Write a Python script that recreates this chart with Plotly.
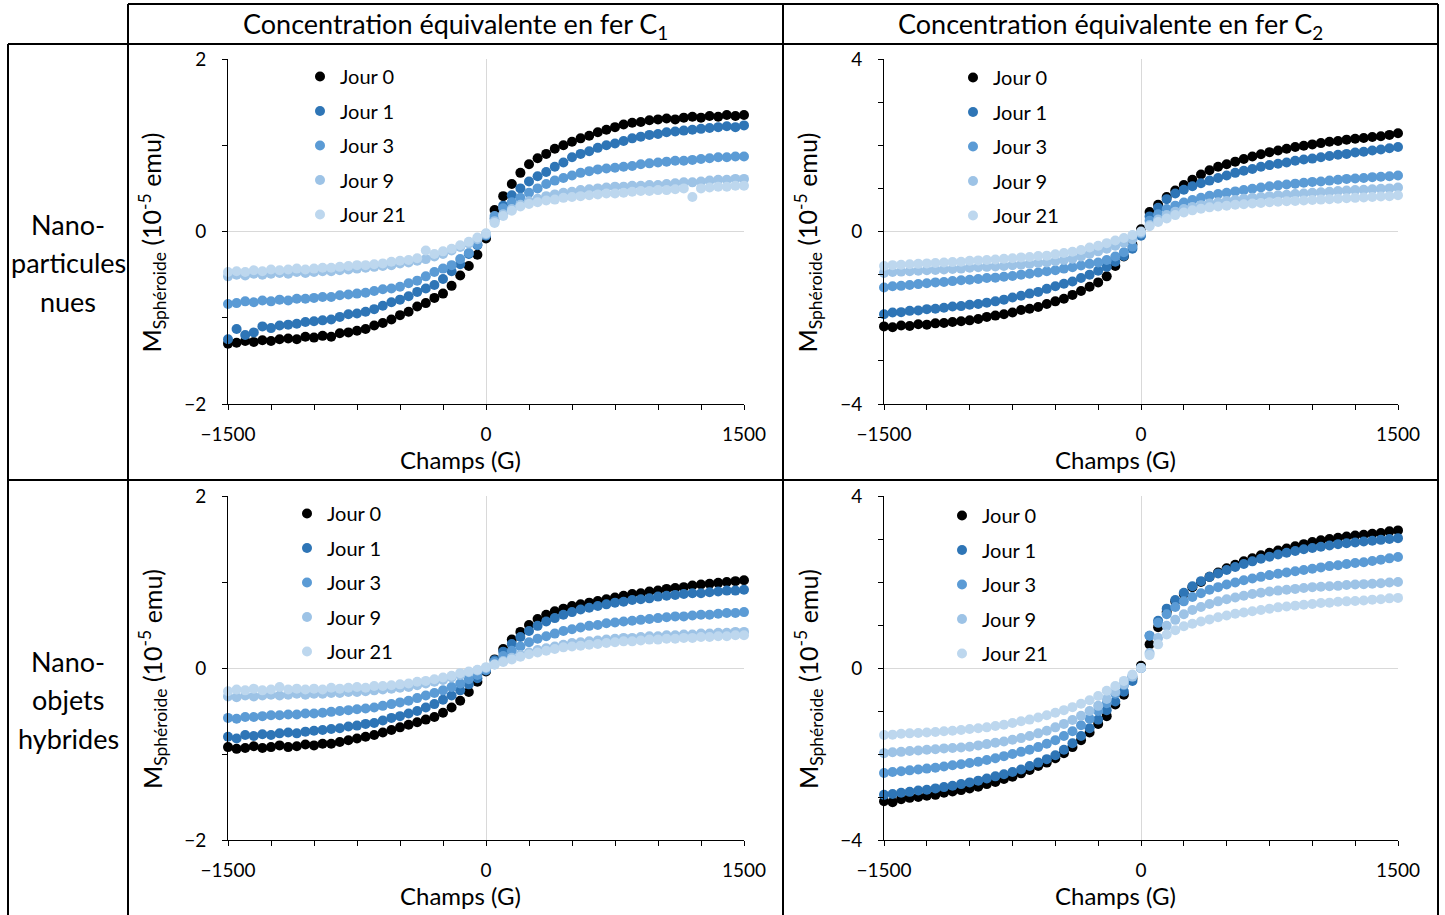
import plotly.graph_objects as go

FONT = "Lato"
W, H = 1445, 915

# Field values (G)
champs = [-1500, -1450, -1400, -1350, -1300, -1250, -1200, -1150, -1100, -1050,
          -1000, -950, -900, -850, -800, -750, -700, -650, -600, -550,
          -500, -450, -400, -350, -300, -250, -200, -150, -100, -50,
          0,
          50, 100, 150, 200, 250, 300, 350, 400, 450, 500,
          550, 600, 650, 700, 750, 800, 850, 900, 950, 1000,
          1050, 1100, 1150, 1200, 1250, 1300, 1350, 1400, 1450, 1500]

jours = ["Jour 0", "Jour 1", "Jour 3", "Jour 9", "Jour 21"]
couleurs = ["#000000", "#2E75B6", "#5B9BD5", "#9DC3E6", "#BDD7EE"]

# --- Nanoparticules nues, C1 ---
np_c1_j0 = [-1.30, -1.29, -1.27, -1.28, -1.26, -1.27, -1.25, -1.24, -1.25, -1.22,
            -1.23, -1.21, -1.22, -1.18, -1.17, -1.15, -1.13, -1.09, -1.06, -1.02,
            -0.97, -0.93, -0.87, -0.83, -0.77, -0.72, -0.63, -0.51, -0.40, -0.27,
            -0.08,
            0.25, 0.41, 0.55, 0.68, 0.78, 0.85, 0.90, 0.96, 1.00, 1.04,
            1.08, 1.11, 1.15, 1.18, 1.21, 1.24, 1.26, 1.27, 1.29, 1.30,
            1.31, 1.30, 1.32, 1.33, 1.32, 1.34, 1.33, 1.35, 1.34, 1.35]
np_c1_j1 = [-1.25, -1.13, -1.20, -1.17, -1.10, -1.12, -1.09, -1.08, -1.07, -1.05,
            -1.04, -1.03, -1.02, -0.99, -0.96, -0.95, -0.93, -0.90, -0.86, -0.82,
            -0.79, -0.75, -0.70, -0.66, -0.62, -0.55, -0.46, -0.38, -0.26, -0.16,
            -0.05,
            0.15, 0.30, 0.42, 0.50, 0.58, 0.64, 0.69, 0.75, 0.80, 0.86,
            0.90, 0.93, 0.97, 1.00, 1.02, 1.05, 1.08, 1.10, 1.12, 1.13,
            1.15, 1.16, 1.17, 1.18, 1.19, 1.20, 1.21, 1.22, 1.21, 1.23]
np_c1_j3 = [-0.84, -0.83, -0.81, -0.82, -0.80, -0.81, -0.79, -0.80, -0.78, -0.78,
            -0.77, -0.76, -0.76, -0.74, -0.73, -0.72, -0.71, -0.69, -0.67, -0.66,
            -0.64, -0.60, -0.57, -0.52, -0.47, -0.43, -0.39, -0.32, -0.25, -0.15,
            -0.04,
            0.18, 0.27, 0.34, 0.39, 0.45, 0.50, 0.55, 0.59, 0.62, 0.65,
            0.68, 0.70, 0.72, 0.73, 0.74, 0.75, 0.76, 0.78, 0.79, 0.80,
            0.81, 0.82, 0.82, 0.83, 0.84, 0.85, 0.86, 0.86, 0.87, 0.87]
np_c1_j9 = [-0.52, -0.50, -0.51, -0.49, -0.50, -0.49, -0.48, -0.49, -0.47, -0.48,
            -0.47, -0.46, -0.46, -0.45, -0.44, -0.43, -0.42, -0.41, -0.40, -0.39,
            -0.37, -0.36, -0.34, -0.32, -0.29, -0.26, -0.22, -0.18, -0.14, -0.09,
            -0.03,
            0.12, 0.20, 0.26, 0.31, 0.35, 0.38, 0.41, 0.43, 0.45, 0.46,
            0.48, 0.49, 0.50, 0.51, 0.52, 0.52, 0.53, 0.53, 0.54, 0.54,
            0.55, 0.56, 0.57, 0.57, 0.58, 0.59, 0.60, 0.60, 0.61, 0.61]
np_c1_j21 = [-0.47, -0.46, -0.47, -0.45, -0.46, -0.44, -0.45, -0.44, -0.43, -0.44,
             -0.43, -0.42, -0.42, -0.41, -0.40, -0.39, -0.39, -0.38, -0.37, -0.35,
             -0.34, -0.33, -0.31, -0.22, -0.26, -0.23, -0.20, -0.16, -0.12, -0.07,
             -0.02,
             0.10, 0.18, 0.24, 0.29, 0.32, 0.34, 0.36, 0.37, 0.39, 0.40,
             0.41, 0.42, 0.43, 0.44, 0.44, 0.45, 0.46, 0.47, 0.47, 0.48,
             0.48, 0.49, 0.50, 0.40, 0.50, 0.51, 0.52, 0.52, 0.53, 0.53]

# --- Nanoparticules nues, C2 ---
np_c2_j0 = [-2.20, -2.22, -2.18, -2.19, -2.15, -2.16, -2.13, -2.12, -2.10, -2.08,
            -2.06, -2.03, -1.98, -1.95, -1.92, -1.88, -1.82, -1.79, -1.75, -1.68,
            -1.62, -1.56, -1.47, -1.38, -1.28, -1.18, -1.04, -0.80, -0.58, -0.30,
            0.05,
            0.45, 0.62, 0.80, 0.95, 1.08, 1.20, 1.32, 1.42, 1.50, 1.56,
            1.62, 1.68, 1.74, 1.79, 1.84, 1.88, 1.92, 1.96, 1.99, 2.02,
            2.05, 2.08, 2.10, 2.13, 2.15, 2.17, 2.19, 2.21, 2.24, 2.28]
np_c2_j1 = [-1.92, -1.88, -1.87, -1.84, -1.83, -1.80, -1.79, -1.77, -1.74, -1.73,
            -1.70, -1.68, -1.65, -1.62, -1.58, -1.53, -1.49, -1.44, -1.40, -1.33,
            -1.27, -1.21, -1.16, -1.08, -1.00, -0.91, -0.82, -0.70, -0.57, -0.40,
            -0.10,
            0.35, 0.55, 0.75, 0.88, 0.97, 1.05, 1.12, 1.18, 1.24, 1.30,
            1.36, 1.41, 1.45, 1.50, 1.54, 1.57, 1.60, 1.64, 1.67, 1.69,
            1.72, 1.75, 1.78, 1.80, 1.83, 1.85, 1.88, 1.90, 1.93, 1.96]
np_c2_j3 = [-1.30, -1.27, -1.26, -1.24, -1.22, -1.20, -1.18, -1.17, -1.15, -1.13,
            -1.12, -1.10, -1.08, -1.07, -1.05, -1.03, -1.00, -0.98, -0.95, -0.92,
            -0.90, -0.86, -0.83, -0.79, -0.75, -0.72, -0.66, -0.58, -0.48, -0.35,
            -0.05,
            0.25, 0.40, 0.52, 0.60, 0.67, 0.73, 0.78, 0.83, 0.87, 0.90,
            0.93, 0.96, 0.99, 1.02, 1.05, 1.07, 1.09, 1.11, 1.13, 1.15,
            1.16, 1.18, 1.20, 1.22, 1.23, 1.24, 1.26, 1.27, 1.28, 1.30]
np_c2_j9 = [-0.96, -0.94, -0.93, -0.92, -0.91, -0.90, -0.89, -0.88, -0.87, -0.86,
            -0.84, -0.83, -0.82, -0.81, -0.80, -0.78, -0.77, -0.75, -0.73, -0.72,
            -0.69, -0.66, -0.63, -0.58, -0.52, -0.46, -0.40, -0.33, -0.26, -0.18,
            -0.03,
            0.15, 0.28, 0.38, 0.46, 0.52, 0.57, 0.61, 0.65, 0.68, 0.71,
            0.73, 0.76, 0.78, 0.80, 0.82, 0.84, 0.85, 0.87, 0.88, 0.90,
            0.91, 0.92, 0.94, 0.95, 0.96, 0.97, 0.98, 0.99, 1.00, 1.02]
np_c2_j21 = [-0.80, -0.78, -0.77, -0.76, -0.75, -0.74, -0.73, -0.72, -0.71, -0.70,
             -0.68, -0.67, -0.66, -0.65, -0.63, -0.62, -0.60, -0.59, -0.57, -0.56,
             -0.53, -0.50, -0.47, -0.43, -0.37, -0.33, -0.27, -0.21, -0.15, -0.08,
             0.00,
             0.12, 0.22, 0.30, 0.38, 0.44, 0.49, 0.53, 0.56, 0.58, 0.60,
             0.62, 0.63, 0.65, 0.66, 0.68, 0.69, 0.70, 0.71, 0.72, 0.73,
             0.74, 0.75, 0.76, 0.77, 0.78, 0.79, 0.80, 0.81, 0.82, 0.84]

# --- Nano-objets hybrides, C1 ---
no_c1_j0 = [-0.92, -0.94, -0.93, -0.91, -0.93, -0.92, -0.90, -0.92, -0.91, -0.89,
            -0.90, -0.88, -0.88, -0.86, -0.84, -0.82, -0.80, -0.78, -0.75, -0.72,
            -0.69, -0.66, -0.63, -0.60, -0.57, -0.52, -0.46, -0.38, -0.28, -0.16,
            -0.04,
            0.10, 0.22, 0.33, 0.42, 0.50, 0.57, 0.62, 0.66, 0.69, 0.72,
            0.74, 0.76, 0.78, 0.80, 0.82, 0.84, 0.86, 0.87, 0.89, 0.90,
            0.92, 0.93, 0.94, 0.96, 0.97, 0.98, 0.99, 1.00, 1.01, 1.02]
no_c1_j1 = [-0.80, -0.82, -0.78, -0.79, -0.77, -0.78, -0.76, -0.75, -0.76, -0.74,
            -0.73, -0.72, -0.71, -0.70, -0.68, -0.67, -0.65, -0.64, -0.61, -0.58,
            -0.56, -0.53, -0.50, -0.46, -0.42, -0.37, -0.32, -0.26, -0.19, -0.12,
            -0.03,
            0.09, 0.19, 0.28, 0.36, 0.43, 0.49, 0.54, 0.58, 0.62, 0.65,
            0.68, 0.70, 0.72, 0.74, 0.76, 0.77, 0.79, 0.80, 0.81, 0.83,
            0.84, 0.85, 0.86, 0.87, 0.87, 0.88, 0.89, 0.90, 0.90, 0.91]
no_c1_j3 = [-0.58, -0.59, -0.57, -0.57, -0.56, -0.55, -0.55, -0.54, -0.54, -0.53,
            -0.53, -0.52, -0.51, -0.50, -0.49, -0.48, -0.47, -0.46, -0.44, -0.42,
            -0.40, -0.38, -0.35, -0.32, -0.29, -0.26, -0.22, -0.18, -0.13, -0.08,
            -0.02,
            0.07, 0.14, 0.20, 0.25, 0.30, 0.34, 0.37, 0.40, 0.43, 0.45,
            0.47, 0.49, 0.50, 0.52, 0.53, 0.54, 0.55, 0.56, 0.57, 0.58,
            0.59, 0.60, 0.60, 0.61, 0.62, 0.62, 0.63, 0.64, 0.64, 0.65]
no_c1_j9 = [-0.33, -0.34, -0.32, -0.33, -0.32, -0.31, -0.32, -0.31, -0.30, -0.31,
            -0.30, -0.30, -0.29, -0.29, -0.28, -0.28, -0.27, -0.26, -0.25, -0.24,
            -0.23, -0.22, -0.20, -0.18, -0.16, -0.14, -0.11, -0.08, -0.05, -0.03,
            0.00,
            0.04, 0.08, 0.12, 0.15, 0.18, 0.21, 0.23, 0.25, 0.27, 0.29,
            0.30, 0.31, 0.32, 0.33, 0.34, 0.35, 0.35, 0.36, 0.37, 0.37,
            0.38, 0.38, 0.39, 0.39, 0.40, 0.40, 0.41, 0.41, 0.42, 0.42]
no_c1_j21 = [-0.27, -0.25, -0.26, -0.24, -0.26, -0.25, -0.22, -0.25, -0.24, -0.25,
             -0.24, -0.25, -0.23, -0.24, -0.23, -0.22, -0.23, -0.21, -0.21, -0.20,
             -0.19, -0.18, -0.16, -0.15, -0.13, -0.11, -0.09, -0.06, -0.04, -0.02,
             0.01,
             0.04, 0.07, 0.10, 0.13, 0.16, 0.18, 0.20, 0.22, 0.24, 0.25,
             0.26, 0.27, 0.28, 0.29, 0.30, 0.31, 0.31, 0.32, 0.33, 0.33,
             0.34, 0.34, 0.35, 0.35, 0.36, 0.36, 0.37, 0.37, 0.38, 0.38]

# --- Nano-objets hybrides, C2 ---
no_c2_j0 = [-3.10, -3.12, -3.05, -3.02, -3.00, -2.97, -2.95, -2.90, -2.87, -2.84,
            -2.80, -2.76, -2.70, -2.65, -2.58, -2.53, -2.45, -2.37, -2.28, -2.20,
            -2.10, -1.98, -1.84, -1.68, -1.50, -1.30, -1.12, -0.85, -0.62, -0.25,
            0.05,
            0.55, 0.95, 1.30, 1.55, 1.72, 1.88, 2.00, 2.12, 2.22, 2.32,
            2.40, 2.48, 2.55, 2.62, 2.68, 2.73, 2.78, 2.83, 2.88, 2.93,
            2.97, 3.00, 3.03, 3.06, 3.08, 3.10, 3.12, 3.14, 3.18, 3.20]
no_c2_j1 = [-2.95, -2.93, -2.90, -2.88, -2.85, -2.83, -2.80, -2.77, -2.74, -2.70,
            -2.66, -2.62, -2.57, -2.52, -2.47, -2.42, -2.36, -2.28, -2.20, -2.12,
            -2.03, -1.90, -1.75, -1.58, -1.40, -1.20, -0.98, -0.78, -0.55, -0.30,
            0.00,
            0.75, 1.10, 1.38, 1.58, 1.75, 1.90, 2.02, 2.12, 2.20, 2.28,
            2.35, 2.42, 2.48, 2.54, 2.59, 2.64, 2.68, 2.72, 2.76, 2.79,
            2.82, 2.85, 2.88, 2.90, 2.92, 2.94, 2.96, 2.98, 3.00, 3.02]
no_c2_j3 = [-2.44, -2.42, -2.40, -2.38, -2.36, -2.34, -2.32, -2.29, -2.26, -2.24,
            -2.21, -2.18, -2.14, -2.10, -2.05, -2.00, -1.95, -1.90, -1.84, -1.76,
            -1.68, -1.58, -1.47, -1.33, -1.18, -1.00, -0.82, -0.60, -0.40, -0.20,
            0.00,
            0.75, 1.05, 1.25, 1.42, 1.55, 1.65, 1.74, 1.82, 1.88, 1.94,
            1.99, 2.04, 2.08, 2.12, 2.16, 2.19, 2.22, 2.25, 2.28, 2.31,
            2.34, 2.37, 2.39, 2.42, 2.44, 2.46, 2.49, 2.52, 2.55, 2.58]
no_c2_j9 = [-1.98, -1.96, -1.95, -1.93, -1.92, -1.90, -1.89, -1.87, -1.86, -1.85,
            -1.83, -1.80, -1.77, -1.74, -1.71, -1.67, -1.63, -1.58, -1.52, -1.46,
            -1.38, -1.30, -1.21, -1.11, -1.00, -0.88, -0.72, -0.56, -0.38, -0.20,
            0.00,
            0.35, 0.70, 0.98, 1.12, 1.25, 1.35, 1.42, 1.49, 1.55, 1.60,
            1.64, 1.68, 1.72, 1.75, 1.78, 1.80, 1.82, 1.84, 1.86, 1.88,
            1.89, 1.90, 1.91, 1.93, 1.94, 1.95, 1.96, 1.97, 1.99, 2.00]
no_c2_j21 = [-1.56, -1.55, -1.53, -1.52, -1.51, -1.50, -1.49, -1.47, -1.46, -1.44,
             -1.42, -1.40, -1.38, -1.35, -1.32, -1.28, -1.24, -1.20, -1.15, -1.10,
             -1.04, -0.98, -0.91, -0.83, -0.75, -0.65, -0.53, -0.42, -0.30, -0.15,
             0.00,
             0.30, 0.55, 0.78, 0.88, 0.97, 1.03, 1.08, 1.13, 1.18, 1.22,
             1.26, 1.29, 1.32, 1.35, 1.38, 1.41, 1.43, 1.45, 1.47, 1.49,
             1.51, 1.52, 1.54, 1.55, 1.56, 1.57, 1.59, 1.60, 1.62, 1.63]

col_titles = ["Concentration équivalente en fer C<sub>1</sub>",
              "Concentration équivalente en fer C<sub>2</sub>"]
row_titles = [["Nano-", "particules", "nues"], ["Nano-", "objets", "hybrides"]]
x_title = "Champs (G)"
y_title = "M<sub>Sphéroide</sub> (10<sup>-5</sup> emu)"

panels = [
    dict(series=[np_c1_j0, np_c1_j1, np_c1_j3, np_c1_j9, np_c1_j21], ymax=2,
         px=(228, 744), py=(59, 404), leg=(300, 57)),
    dict(series=[np_c2_j0, np_c2_j1, np_c2_j3, np_c2_j9, np_c2_j21], ymax=4,
         px=(884, 1398), py=(59, 404), leg=(953, 58)),
    dict(series=[no_c1_j0, no_c1_j1, no_c1_j3, no_c1_j9, no_c1_j21], ymax=2,
         px=(228, 744), py=(496, 840), leg=(287, 494)),
    dict(series=[no_c2_j0, no_c2_j1, no_c2_j3, no_c2_j9, no_c2_j21], ymax=4,
         px=(884, 1398), py=(496, 840), leg=(942, 496)),
]


def fx(p):
    return p / W


def fy(p):
    return 1 - p / H


fig = go.Figure()
layout = dict(width=W, height=H, autosize=False,
              margin=dict(l=0, r=0, t=0, b=0, pad=0, autoexpand=False),
              paper_bgcolor="white", plot_bgcolor="white",
              font=dict(family=FONT, color="black"), showlegend=True)
annotations = []

for i, p in enumerate(panels, start=1):
    sfx = "" if i == 1 else str(i)
    legname = "legend" if i == 1 else f"legend{i}"
    for j, (name, col, ys) in enumerate(zip(jours, couleurs, p["series"])):
        fig.add_trace(go.Scatter(
            x=champs, y=ys, mode="markers", name=name,
            marker=dict(color=col, size=10),
            cliponaxis=False,
            xaxis="x" + sfx, yaxis="y" + sfx,
            legend=legname, legendgroup=f"{i}-{j}"))
    ym = p["ymax"]
    layout["xaxis" + sfx] = dict(
        domain=[fx(p["px"][0]), fx(p["px"][1])], anchor="y" + sfx,
        range=[-1500, 1500], tickvals=[-1500, 0, 1500], automargin=False,
        ticks="outside", ticklen=5, tickcolor="black",
        minor=dict(dtick=250, ticks="outside", ticklen=5, tickcolor="black", showgrid=False),
        showgrid=True, gridcolor="#d9d9d9", gridwidth=1,
        showline=True, linecolor="black", linewidth=1, zeroline=False,
        tickfont=dict(size=19, family=FONT), ticklabelstandoff=8,
        fixedrange=True)
    layout["yaxis" + sfx] = dict(
        domain=[fy(p["py"][1]), fy(p["py"][0])], anchor="x" + sfx,
        range=[-ym, ym], tickvals=[-ym, 0, ym], automargin=False,
        ticks="outside", ticklen=5, tickcolor="black",
        minor=dict(dtick=1, ticks="outside", ticklen=5, tickcolor="black", showgrid=False),
        showgrid=True, gridcolor="#d9d9d9", gridwidth=1,
        showline=True, linecolor="black", linewidth=1, zeroline=False,
        tickfont=dict(size=19, family=FONT), ticklabelstandoff=12,
        fixedrange=True)
    layout[legname] = dict(
        x=fx(p["leg"][0]), y=fy(p["leg"][1]), xanchor="left", yanchor="top",
        bgcolor="rgba(0,0,0,0)", font=dict(size=20, family=FONT),
        traceorder="grouped", tracegroupgap=5.5, itemclick=False, itemdoubleclick=False)
    # axis titles
    xc = (p["px"][0] + p["px"][1]) / 2 - 26
    annotations.append(dict(text=x_title, x=fx(xc), y=fy(p["py"][1] + 55),
                            xref="paper", yref="paper", showarrow=False,
                            font=dict(size=24, family=FONT), xanchor="center", yanchor="middle"))
    yc = (p["py"][0] + p["py"][1]) / 2 + 11
    annotations.append(dict(text=y_title, x=fx(p["px"][0] - 76), y=fy(yc),
                            xref="paper", yref="paper", showarrow=False, textangle=-90,
                            font=dict(size=25, family=FONT), xanchor="center", yanchor="middle"))

# column and row headers
for k, t in enumerate(col_titles):
    xc = [455, 1110][k]
    annotations.append(dict(text=t, x=fx(xc), y=fy(25), xref="paper", yref="paper",
                            showarrow=False, font=dict(size=27, family=FONT),
                            xanchor="center", yanchor="middle"))
for k, lines in enumerate(row_titles):
    y0 = [224, 661][k]
    for m, t in enumerate(lines):
        annotations.append(dict(text=t, x=fx(68), y=fy(y0 + 38.5 * m), xref="paper", yref="paper",
                                showarrow=False, font=dict(size=27, family=FONT),
                                xanchor="center", yanchor="middle"))

# table borders
shapes = []
line = dict(color="black", width=2)
for (x0, y0, x1, y1) in [(128, 4, 1438, 4), (8, 44, 1438, 44), (8, 480, 1438, 480),
                         (8, 44, 8, 915), (128, 4, 128, 915), (783, 4, 783, 915),
                         (1438, 4, 1438, 915)]:
    shapes.append(dict(type="line", xref="paper", yref="paper",
                       x0=fx(x0), y0=fy(y0), x1=fx(x1), y1=fy(y1), line=line))

layout["annotations"] = annotations
layout["shapes"] = shapes
fig.update_layout(**layout)
fig.write_html("out.html", config={"displayModeBar": False},
               post_script="document.body.style.margin='0px';document.body.style.overflow='hidden';")
